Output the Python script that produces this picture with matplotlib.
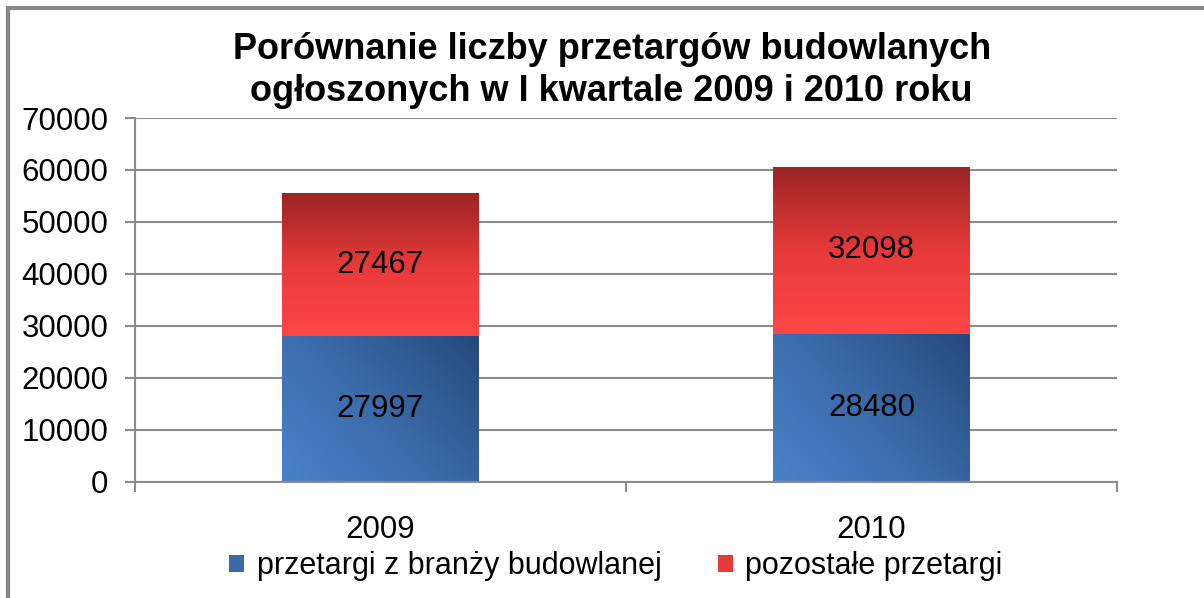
import numpy as np
import matplotlib
matplotlib.use("Agg")
import matplotlib.pyplot as plt
from matplotlib.colors import LinearSegmentedColormap
from matplotlib.patches import Patch, Rectangle

years = ["2009", "2010"]
construction = [27997, 28480]
other = [27467, 32098]
series_names = ["przetargi z branży budowlanej", "pozostałe przetargi"]
title = "Porównanie liczby przetargów budowlanych\nogłoszonych w I kwartale 2009 i 2010 roku"
y_ticks = [0, 10000, 20000, 30000, 40000, 50000, 60000, 70000]

plt.rcParams['font.family'] = ['Liberation Sans', 'DejaVu Sans']

blue_cmap = LinearSegmentedColormap.from_list("blue", ["#4a82c9", "#3a6aa8", "#26497a"])
red_cmap = LinearSegmentedColormap.from_list("red", ["#ff4646", "#e63a3a", "#9c2424"])
grid_col = "#8c8c8c"


def fill_gradient(ax, bar, cmap, diagonal):
    x0, y0 = bar.get_x(), bar.get_y()
    w, h = bar.get_width(), bar.get_height()
    n = 200
    xs = np.linspace(0, 1, n)
    ys = np.linspace(0, 1, n)
    gx, gy = np.meshgrid(xs, ys)
    if diagonal:
        z = (gx * 0.6 + gy * 0.4)
    else:
        z = gy
    im = ax.imshow(z, cmap=cmap, origin="lower", aspect="auto",
                   extent=(x0, x0 + w, y0, y0 + h), zorder=2, interpolation="bilinear")
    im.set_clip_path(bar)
    bar.set_facecolor("none")


fig = plt.figure(figsize=(12.04, 5.98), dpi=100)
ax = fig.add_axes([135 / 1204, 1 - 481.5 / 598, (1117 - 135) / 1204, (481.5 - 118) / 598])

x = np.arange(len(years))
bars_b = ax.bar(x, construction, width=0.4, color="#3a6aa8", zorder=2, linewidth=0)
bars_r = ax.bar(x, other, bottom=construction, width=0.4, color="#e63a3a", zorder=2, linewidth=0)

for b in bars_b:
    fill_gradient(ax, b, blue_cmap, True)
for b in bars_r:
    fill_gradient(ax, b, red_cmap, False)

for i in range(len(years)):
    ax.text(x[i], construction[i] / 2, str(construction[i]), ha="center", va="center",
            fontsize=22.5, zorder=3)
    ax.text(x[i], construction[i] + other[i] / 2, str(other[i]), ha="center", va="center",
            fontsize=22.5, zorder=3)

ax.set_xlim(-0.5, len(years) - 0.5)
ax.set_ylim(0, 70000)
ax.set_yticks(y_ticks)
ax.set_yticklabels([str(v) for v in y_ticks], fontsize=22.5)
ax.yaxis.grid(True, color=grid_col, linewidth=1.5, zorder=0)
ax.set_axisbelow(True)

ax.set_xticks(x)
ax.set_xticklabels(years, fontsize=22.5)
ax.set_xticks([-0.5, 0.5, 1.5], minor=True)
ax.tick_params(axis="x", which="major", length=0, pad=24)
ax.tick_params(axis="x", which="minor", length=7, width=1.5, color=grid_col, direction="out")
ax.tick_params(axis="y", length=7, width=1.5, color=grid_col, pad=12)

for s in ["top", "right"]:
    ax.spines[s].set_visible(False)
ax.spines["left"].set_color(grid_col)
ax.spines["left"].set_linewidth(1.5)
ax.spines["bottom"].set_color(grid_col)
ax.spines["bottom"].set_linewidth(1.5)

fig.text(0.508, 0.882, title, ha="center", va="center", fontsize=26, fontweight="bold",
         linespacing=1.28)

handles = [Patch(facecolor="#3a6aa8", edgecolor="none"),
           Patch(facecolor="#e63a3a", edgecolor="none")]
fig.legend(handles, series_names, loc="center", bbox_to_anchor=(0.5115, 0.053), ncol=2,
           frameon=False, fontsize=22, handlelength=0.5, handleheight=0.5,
           handletextpad=0.4, columnspacing=1.85)

# outer chart frame
fig.patches.append(Rectangle((8 / 1204, -0.1), 1.2, 1 - 8 / 598 + 0.1,
                             transform=fig.transFigure, fill=False,
                             edgecolor="#888888", linewidth=3, zorder=0))

fig.savefig("out.png", dpi=100)
